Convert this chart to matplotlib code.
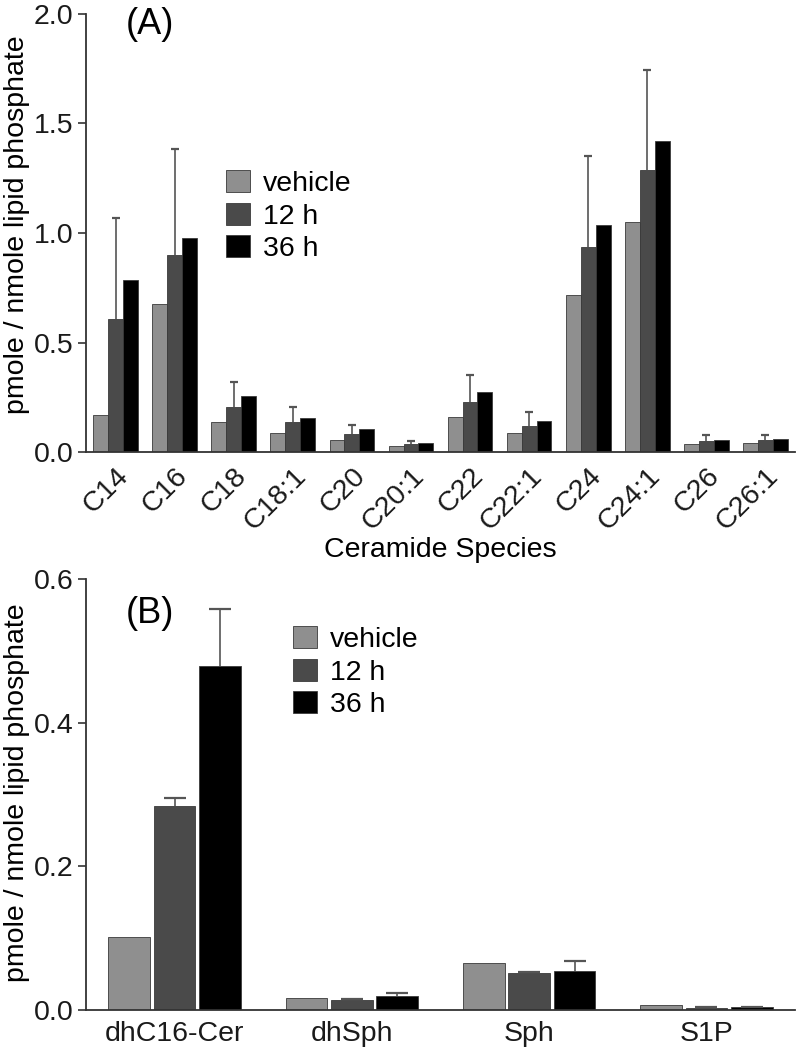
import matplotlib
matplotlib.use("Agg")
import matplotlib.pyplot as plt
import numpy as np
from matplotlib.patches import Patch

plt.rcParams['font.family'] = ['Liberation Sans', 'DejaVu Sans']

# ---------------- data ----------------
species = ["C14", "C16", "C18", "C18:1", "C20", "C20:1", "C22", "C22:1",
           "C24", "C24:1", "C26", "C26:1"]
cer_vehicle = [0.169, 0.674, 0.135, 0.085, 0.055, 0.027, 0.158, 0.085, 0.715, 1.049, 0.036, 0.040]
cer_12h = [0.609, 0.900, 0.204, 0.135, 0.081, 0.036, 0.229, 0.120, 0.935, 1.288, 0.050, 0.055]
cer_36h = [0.784, 0.975, 0.258, 0.156, 0.103, 0.042, 0.273, 0.143, 1.037, 1.418, 0.053, 0.058]
cer_12h_err = [0.460, 0.483, 0.116, 0.071, 0.042, 0.014, 0.122, 0.061, 0.415, 0.455, 0.026, 0.024]

lipids = ["dhC16-Cer", "dhSph", "Sph", "S1P"]
lip_vehicle = [0.101, 0.017, 0.066, 0.007]
lip_12h = [0.284, 0.014, 0.052, 0.003]
lip_36h = [0.479, 0.020, 0.054, 0.0035]
lip_12h_err = [0.011, 0.002, 0.001, 0.0005]
lip_36h_err = [0.079, 0.004, 0.014, 0.0005]

groups = ["vehicle", "12 h", "36 h"]
colors = ["#8f8f8f", "#4a4a4a", "#000000"]

# ---------------- figure ----------------
fig = plt.figure(figsize=(7.97, 10.5), dpi=100)
axA = fig.add_axes([0.1079, 0.5695, 0.8896, 0.4172])
axB = fig.add_axes([0.1079, 0.0381, 0.8896, 0.4105])

spine_col = "#333333"
err_col = "#555555"
fs = 20.5

def style(ax):
    for s in ["top", "right"]:
        ax.spines[s].set_visible(False)
    for s in ["left", "bottom"]:
        ax.spines[s].set_color(spine_col)
        ax.spines[s].set_linewidth(1.3)
    ax.tick_params(axis='y', direction='out', length=6, width=1.2,
                   color=spine_col, labelsize=fs, pad=3, labelcolor="#1a1a1a")
    ax.tick_params(axis='x', length=0, labelsize=fs, labelcolor="#1a1a1a")

def upper_err(ax, xs, means, errs, capsize):
    means = np.asarray(means)
    tops = means + np.asarray(errs)
    ax.vlines(xs, means, tops, colors=err_col, linewidth=1.2, zorder=3)
    ax.plot(xs, tops, linestyle='none', marker='_', markersize=capsize,
            markeredgewidth=1.6, color=err_col, zorder=3)

edge_kw = dict(edgecolor="#3a3a3a", linewidth=0.6)

# ---- Panel A ----
x = np.arange(len(species))
w = 0.252
axA.bar(x - w, cer_vehicle, w, color=colors[0], **edge_kw)
axA.bar(x, cer_12h, w, color=colors[1], **edge_kw)
axA.bar(x + w, cer_36h, w, color=colors[2], **edge_kw)
upper_err(axA, x, cer_12h, cer_12h_err, 6)
axA.set_xlim(-0.5, len(species) - 0.5)
axA.set_ylim(0, 2.0)
axA.set_yticks([0.0, 0.5, 1.0, 1.5, 2.0])
axA.set_yticklabels(["0.0", "0.5", "1.0", "1.5", "2.0"])
axA.set_xticks(x)
axA.set_xticklabels(species, rotation=45, ha='right', rotation_mode='anchor')
style(axA)
axA.tick_params(axis='x', pad=8)
axA.set_ylabel("pmole / nmole lipid phosphate", fontsize=fs, va='center')
axA.yaxis.set_label_coords(-0.097, 0.52)
axA.set_xlabel("Ceramide Species", fontsize=fs, labelpad=1)
axA.text(0.09, 0.975, "(A)", transform=axA.transAxes, fontsize=26,
         ha='center', va='center')
handles = [Patch(facecolor=c, edgecolor="#3a3a3a", linewidth=0.6) for c in colors]
leg_kw = dict(frameon=False, fontsize=fs, handlelength=0.85, handleheight=0.8,
              handletextpad=0.45, labelspacing=0.2, borderaxespad=0, borderpad=0)
axA.legend(handles, groups, loc='upper left', bbox_to_anchor=(0.197, 0.643), **leg_kw)

# ---- Panel B ----
xb = np.arange(len(lipids))
wb = 0.235
sb = 0.256
axB.bar(xb - sb, lip_vehicle, wb, color=colors[0], **edge_kw)
axB.bar(xb, lip_12h, wb, color=colors[1], **edge_kw)
axB.bar(xb + sb, lip_36h, wb, color=colors[2], **edge_kw)
upper_err(axB, xb, lip_12h, lip_12h_err, 16)
upper_err(axB, xb + sb, lip_36h, lip_36h_err, 16)
axB.set_xlim(-0.5, len(lipids) - 0.5)
axB.set_ylim(0, 0.6)
axB.set_yticks([0.0, 0.2, 0.4, 0.6])
axB.set_yticklabels(["0.0", "0.2", "0.4", "0.6"])
axB.set_xticks(xb)
axB.set_xticklabels(lipids)
style(axB)
axB.tick_params(axis='x', pad=8)
axB.set_ylabel("pmole / nmole lipid phosphate", fontsize=fs, va='center')
axB.yaxis.set_label_coords(-0.097, 0.505)
axB.text(0.09, 0.92, "(B)", transform=axB.transAxes, fontsize=26,
         ha='center', va='center')
axB.legend(handles, groups, loc='upper left', bbox_to_anchor=(0.292, 0.89), **leg_kw)

fig.savefig("out.png", dpi=100)
